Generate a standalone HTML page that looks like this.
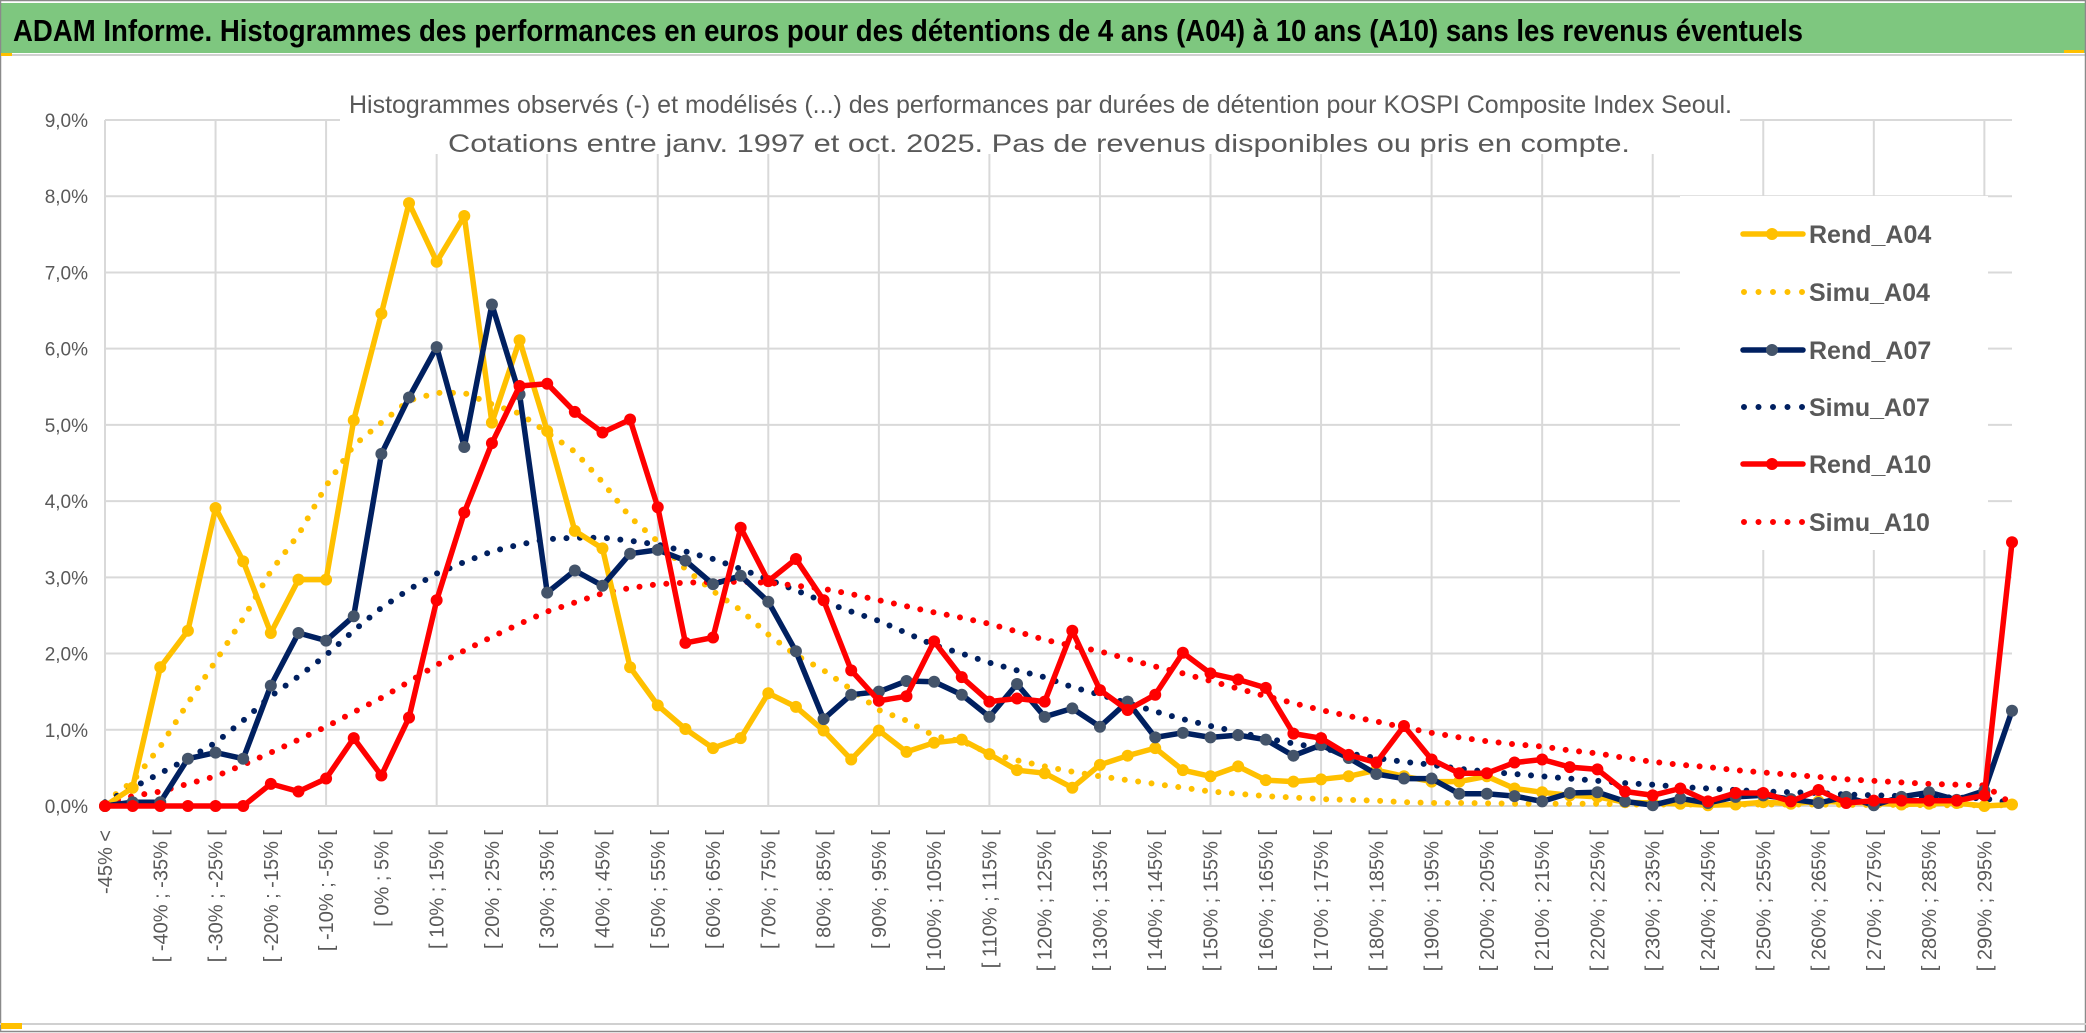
<!DOCTYPE html>
<html><head><meta charset="utf-8">
<style>
html,body{margin:0;padding:0;background:#fff;}
svg{display:block;}
text{font-family:"Liberation Sans Narrow","Liberation Sans",sans-serif;}
</style></head>
<body>
<svg id="chart" width="2086" height="1033" viewBox="0 0 2086 1033" xmlns="http://www.w3.org/2000/svg">
  <rect x="0" y="0" width="2086" height="1033" fill="#ffffff"/>
  <rect x="1" y="3" width="2084" height="50" fill="#7ec77f"/>
  <line x1="0" y1="55" x2="2086" y2="55" stroke="#d0d0d0" stroke-width="2"/>
  <text x="13" y="41" font-size="31" font-weight="bold" fill="#000" textLength="1790" lengthAdjust="spacingAndGlyphs">ADAM Informe. Histogrammes des performances en euros pour des détentions de 4 ans (A04) à 10 ans (A10) sans les revenus éventuels</text>
  <rect x="0.5" y="0.5" width="2085" height="1031" fill="none" stroke="#8a8a8a" stroke-width="1.5"/>
  <line x1="0" y1="1024" x2="2086" y2="1024" stroke="#d0d0d0" stroke-width="2"/>
  <rect x="1" y="1023" width="21" height="6" fill="#ffc000"/>
  <rect x="1" y="53" width="11" height="3" fill="#ffc000"/>
  <rect x="2064" y="50" width="20" height="3" fill="#ffc000"/>
  <g id="grid"></g>
  <g id="yaxis"></g>
  <g id="xaxis"></g>
  <rect x="340" y="80" width="1400" height="74" fill="#ffffff"/>
  <text x="349" y="113" font-size="25" fill="#595959" textLength="1383" lengthAdjust="spacingAndGlyphs">Histogrammes observés (-) et modélisés (...) des performances par durées de détention pour KOSPI Composite Index Seoul.</text>
  <text x="448" y="152" font-size="25" fill="#595959" textLength="1182" lengthAdjust="spacingAndGlyphs">Cotations entre janv. 1997 et oct. 2025. Pas de revenus disponibles ou pris en compte.</text>
  <g id="series"></g>
  <g id="legend"></g>
</svg>
<script>
const categoriesCount = 70;
const yTicks = [0,1,2,3,4,5,6,7,8,9];
const rendA04 = [0,0.24,1.82,2.30,3.91,3.21,2.27,2.97,2.97,5.06,6.46,7.91,7.14,7.74,5.03,6.11,4.92,3.61,3.38,1.82,1.32,1.01,0.76,0.89,1.48,1.30,0.99,0.61,0.99,0.71,0.83,0.87,0.68,0.47,0.43,0.24,0.54,0.66,0.76,0.47,0.39,0.52,0.34,0.32,0.35,0.39,0.47,0.39,0.32,0.32,0.39,0.23,0.18,0.14,0.12,0.05,0.04,0.03,0.01,0.02,0.05,0.03,0.06,0.05,0.04,0.02,0.03,0.04,0.0,0.02];
const simuA04 = [0.05,0.32,0.78,1.35,1.90,2.46,3.08,3.56,4.20,4.73,5.03,5.32,5.42,5.42,5.27,5.15,4.90,4.65,4.25,3.79,3.47,3.11,2.82,2.57,2.25,1.98,1.78,1.53,1.26,1.12,0.92,0.85,0.69,0.60,0.52,0.45,0.39,0.34,0.29,0.24,0.19,0.16,0.13,0.11,0.09,0.08,0.07,0.05,0.04,0.04,0.035,0.03,0.03,0.03,0.03,0.02,0.02,0.02,0.02,0.02,0.02,0.02,0.02,0.015,0.015,0.015,0.01,0.01,0.01,0.01];
const rendA07 = [0,0.05,0.05,0.62,0.70,0.62,1.58,2.27,2.17,2.49,4.62,5.36,6.02,4.71,6.58,5.40,2.80,3.09,2.89,3.31,3.36,3.22,2.91,3.02,2.68,2.03,1.14,1.46,1.50,1.64,1.63,1.46,1.17,1.60,1.17,1.28,1.04,1.37,0.90,0.96,0.90,0.93,0.87,0.66,0.80,0.63,0.42,0.36,0.36,0.16,0.16,0.13,0.06,0.17,0.18,0.06,0.01,0.10,0.04,0.12,0.14,0.09,0.04,0.12,0.01,0.12,0.18,0.08,0.20,1.25];
const simuA07 = [0.05,0.24,0.43,0.62,0.83,1.12,1.44,1.70,1.98,2.30,2.60,2.84,3.05,3.20,3.34,3.43,3.50,3.52,3.52,3.48,3.43,3.34,3.24,3.11,2.97,2.83,2.68,2.55,2.43,2.27,2.11,2.00,1.88,1.78,1.69,1.56,1.46,1.35,1.24,1.14,1.05,0.97,0.89,0.82,0.76,0.69,0.63,0.58,0.54,0.49,0.45,0.42,0.39,0.36,0.33,0.30,0.28,0.25,0.23,0.21,0.19,0.18,0.17,0.15,0.14,0.13,0.12,0.11,0.10,0.04];
const rendA10 = [0,0,0,0,0,0,0.29,0.19,0.36,0.89,0.40,1.16,2.70,3.85,4.76,5.51,5.54,5.17,4.90,5.07,3.92,2.14,2.21,3.65,2.95,3.24,2.70,1.78,1.38,1.44,2.16,1.69,1.37,1.41,1.37,2.30,1.52,1.26,1.46,2.01,1.74,1.66,1.55,0.95,0.89,0.67,0.57,1.05,0.61,0.43,0.43,0.57,0.61,0.51,0.48,0.19,0.14,0.23,0.06,0.17,0.17,0.06,0.21,0.04,0.07,0.07,0.07,0.07,0.14,3.46];
const simuA10 = [0.03,0.13,0.19,0.29,0.39,0.54,0.70,0.87,1.04,1.23,1.42,1.63,1.85,2.04,2.22,2.39,2.55,2.67,2.79,2.86,2.91,2.93,2.94,2.94,2.93,2.89,2.85,2.78,2.70,2.62,2.54,2.47,2.39,2.29,2.18,2.10,2.03,1.93,1.83,1.74,1.64,1.54,1.44,1.35,1.26,1.18,1.11,1.03,0.96,0.90,0.85,0.81,0.78,0.73,0.69,0.63,0.58,0.54,0.51,0.47,0.44,0.41,0.38,0.35,0.33,0.31,0.29,0.28,0.27,0.03];
const seriesNames = ["Rend_A04","Simu_A04","Rend_A07","Simu_A07","Rend_A10","Simu_A10"];

const NS = "http://www.w3.org/2000/svg";
const X0 = 105, X1 = 2012, Y0 = 806, Y9 = 120;
function xs(i){ return X0 + (X1 - X0) * i / (categoriesCount - 1); }
function ys(v){ return Y0 - (Y0 - Y9) * v / 9; }
function mk(tag, attrs, parent){ const e = document.createElementNS(NS, tag); for (const k in attrs) e.setAttribute(k, attrs[k]); parent.appendChild(e); return e; }
function catLabel(i){
  if (i === 0) return "-45% <";
  const a = -45 + 5 * (i - 1);
  return "[ " + a + "% ; " + (a + 5) + "% [";
}

const grid = document.getElementById('grid');
yTicks.forEach(v => {
  const l = mk('line', {x1: X0, x2: X1, y1: ys(v), y2: ys(v), stroke: '#d9d9d9', 'stroke-width': 2}, grid);
  
  
});
for (let i = 0; i < categoriesCount; i += 4) {
  const l = mk('line', {x1: xs(i), x2: xs(i), y1: Y9, y2: Y0, stroke: '#d9d9d9', 'stroke-width': 2}, grid);
  
  
}
const yax = document.getElementById('yaxis');
yTicks.forEach(v => {
  const t = mk('text', {x: 88, y: ys(v) + 7, 'text-anchor': 'end', 'font-size': 19, fill: '#595959'}, yax);
  t.textContent = v.toFixed(1).replace('.', ',') + '%';
  
  
});
const xax = document.getElementById('xaxis');
for (let i = 0; i < categoriesCount; i += 2) {
  const x = xs(i) + 7, y = 830;
  const t = mk('text', {x: x, y: y, 'text-anchor': 'end', 'font-size': 20, fill: '#595959', transform: 'rotate(-90 ' + x + ' ' + y + ')'}, xax);
  t.textContent = catLabel(i);
  
  
}

const ser = document.getElementById('series');
function pathFor(arr){ return arr.map((v, i) => (i ? 'L' : 'M') + xs(i).toFixed(1) + ' ' + ys(v).toFixed(1)).join(' '); }
function dotted(arr, color, name){
  const p = mk('path', {d: pathFor(arr), fill: 'none', stroke: color, 'stroke-width': 6, 'stroke-linecap': 'round', 'stroke-dasharray': '0 13.5'}, ser);
  
  
}
function solid(arr, color, marker, name){
  const g = mk('g', {}, ser);
  
  
  mk('path', {d: pathFor(arr), fill: 'none', stroke: color, 'stroke-width': 5.5, 'stroke-linejoin': 'round'}, g);
  arr.forEach((v, i) => {
    const c = mk('circle', {cx: xs(i), cy: ys(v), r: 6, fill: marker}, g);
    
    
  });
}
dotted(simuA04, '#ffc000', 'simu-a04-line');
dotted(simuA07, '#002060', 'simu-a07-line');
dotted(simuA10, '#ff0000', 'simu-a10-line');
solid(rendA04, '#ffc000', '#ffc000', 'rend-a04-line');
solid(rendA07, '#002060', '#44546a', 'rend-a07-line');
solid(rendA10, '#ff0000', '#ff0000', 'rend-a10-line');

const leg = document.getElementById('legend');
const bg = mk('rect', {x: 1680, y: 196, width: 308, height: 354, fill: '#ffffff'}, leg);


const legColors = ['#ffc000','#ffc000','#002060','#002060','#ff0000','#ff0000'];
const legMarkers = ['#ffc000', null, '#44546a', null, '#ff0000', null];
const legY = [234, 292, 350, 407, 464, 522];
seriesNames.forEach((n, k) => {
  const g = mk('g', {}, leg);
  
  
  const y = legY[k];
  if (legMarkers[k]) {
    mk('line', {x1: 1743, x2: 1803, y1: y, y2: y, stroke: legColors[k], 'stroke-width': 5.5, 'stroke-linecap': 'round'}, g);
    mk('circle', {cx: 1772, cy: y, r: 6, fill: legMarkers[k]}, g);
  } else {
    mk('line', {x1: 1744, x2: 1803, y1: y, y2: y, stroke: legColors[k], 'stroke-width': 6, 'stroke-linecap': 'round', 'stroke-dasharray': '0 14.5'}, g);
  }
  const t = mk('text', {x: 1809, y: y + 9, 'font-size': 25, fill: '#595959', 'font-weight': 'bold'}, g);
  t.textContent = n;
});
</script>
</body></html>
